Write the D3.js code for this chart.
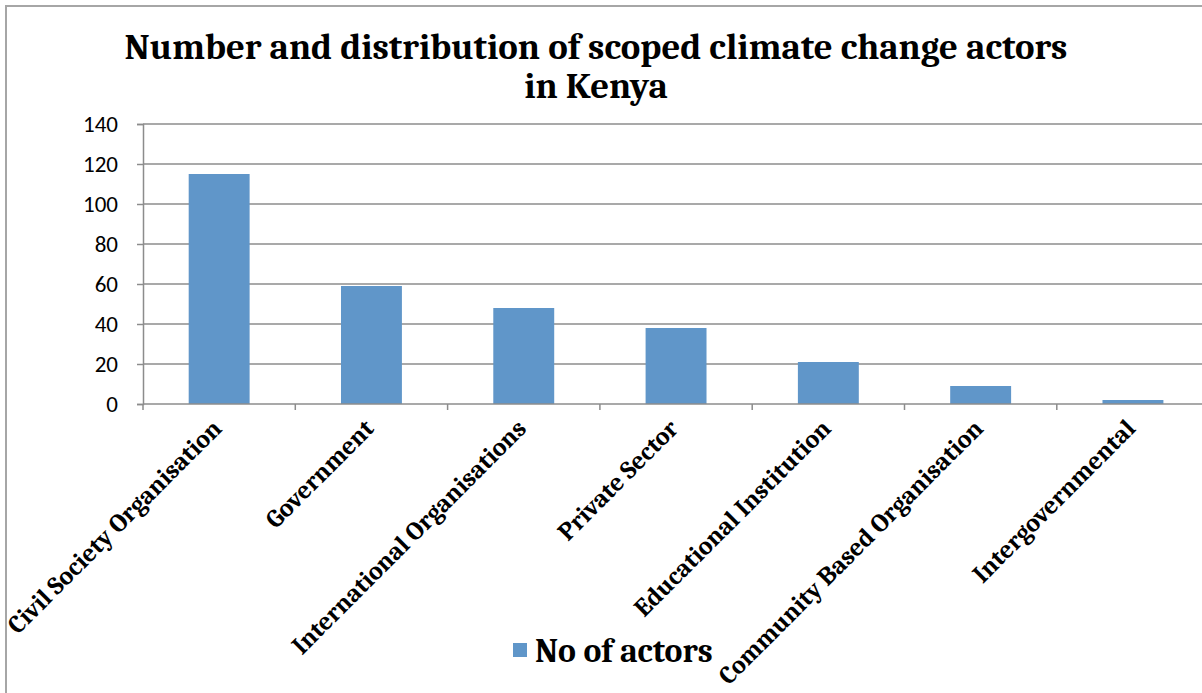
<!DOCTYPE html>
<html>
<head>
<meta charset="utf-8">
<script src="https://cdn.jsdelivr.net/npm/d3@7"></script>
<style>
  html, body { margin: 0; padding: 0; background: #fff; }
  svg { display: block; }
</style>
</head>
<body>
<div id="chart"></div>
<script>
// data
const categories = [
  "Civil Society Organisation",
  "Government",
  "International Organisations",
  "Private Sector",
  "Educational Institution",
  "Community Based Organisation",
  "Intergovernmental"
];
const actorCounts = [115, 59, 48, 38, 21, 9, 2];
const yTicks = [0, 20, 40, 60, 80, 100, 120, 140];
const titleLines = ["Number and distribution of scoped climate change actors", "in Kenya"];
const seriesName = "No of actors";

const width = 1202, height = 693;
const barColor = "#6096c9";
const gridColor = "#8c8c8c";
const serif = "Cambria, 'Liberation Serif', 'DejaVu Serif', serif";

const svg = d3.select("#chart").append("svg")
  .attr("width", width)
  .attr("height", height);

// outer frame (only top and left edges show)
svg.append("path")
  .attr("d", `M6,${height} V6 H${width}`)
  .attr("fill", "none")
  .attr("stroke", "#a6a6a6")
  .attr("stroke-width", 2);

const plotLeft = 143, plotTop = 124, plotBottom = 404;
const step = 152.3;

const x = d3.scaleBand()
  .domain(categories)
  .range([plotLeft, plotLeft + step * categories.length])
  .padding(0);

const y = d3.scaleLinear()
  .domain([0, 140])
  .range([plotBottom, plotTop]);

// scale a text's font so that it spans a given width
function fitWidth(sel, size, target) {
  sel.style("font-size", size + "px");
  const w = sel.node().getComputedTextLength();
  const s = size * target / w;
  sel.style("font-size", s.toFixed(1) + "px");
  return s;
}

// gridlines
svg.append("g")
  .selectAll("line")
  .data(yTicks.slice(1))
  .join("line")
  .attr("x1", plotLeft)
  .attr("x2", width)
  .attr("y1", d => y(d))
  .attr("y2", d => y(d))
  .attr("stroke", gridColor)
  .attr("stroke-width", 1.5);

// bars
const barW = x.bandwidth() * 0.4;
svg.append("g")
  .selectAll("rect")
  .data(categories)
  .join("rect")
  .attr("x", d => x(d) + (x.bandwidth() - barW) / 2)
  .attr("width", barW)
  .attr("y", (d, i) => y(actorCounts[i]))
  .attr("height", (d, i) => y(0) - y(actorCounts[i]))
  .attr("fill", barColor);

// y axis
const yAxis = svg.append("g")
  .attr("transform", `translate(${plotLeft},0)`)
  .call(d3.axisLeft(y).tickValues(yTicks).tickSize(6).tickPadding(19));
yAxis.select(".domain").attr("stroke", gridColor).attr("stroke-width", 1.5);
yAxis.selectAll(".tick line").attr("stroke", gridColor).attr("stroke-width", 1.5);
yAxis.selectAll(".tick text")
  .attr("fill", "#000")
  .style("font-family", "Carlito, 'Liberation Sans', Arial, sans-serif")
  .style("font-size", "23px");

// x axis line and category boundary ticks
svg.append("line")
  .attr("x1", plotLeft).attr("x2", width)
  .attr("y1", plotBottom).attr("y2", plotBottom)
  .attr("stroke", gridColor).attr("stroke-width", 1.5);
svg.append("g")
  .selectAll("line")
  .data(d3.range(categories.length + 1))
  .join("line")
  .attr("x1", i => plotLeft + i * x.step())
  .attr("x2", i => plotLeft + i * x.step())
  .attr("y1", plotBottom)
  .attr("y2", plotBottom + 6)
  .attr("stroke", gridColor).attr("stroke-width", 1.5);

// rotated category labels
const labels = svg.append("g")
  .selectAll("text")
  .data(categories)
  .join("text")
  .attr("transform", d => `translate(${x(d) + x.bandwidth() / 2 + 4},${plotBottom + 26}) rotate(-45)`)
  .attr("text-anchor", "end")
  .style("font-family", serif)
  .style("font-weight", "bold")
  .text(d => d);
const labelSize = fitWidth(labels.filter((d, i) => i === 0), 21, 290);
labels.style("font-size", labelSize.toFixed(1) + "px");

// title
const title = svg.append("text")
  .attr("text-anchor", "middle")
  .style("font-family", serif)
  .style("font-weight", "bold")
  .style("font-size", "32px");
title.selectAll("tspan")
  .data(titleLines)
  .join("tspan")
  .attr("x", 596)
  .attr("y", (d, i) => 59 + i * 39)
  .text(d => d);
// stretch the font so the first line spans the same width as the original
const w0 = title.select("tspan").node().getComputedTextLength();
title.style("font-size", (32 * 943 / w0).toFixed(1) + "px");

// legend
const legend = svg.append("g").attr("transform", "translate(513,643)");
legend.append("rect")
  .attr("width", 14).attr("height", 14)
  .attr("fill", barColor);
const legendText = legend.append("text")
  .attr("x", 22).attr("y", 19)
  .style("font-family", serif)
  .style("font-weight", "bold")
  .text(seriesName);
fitWidth(legendText, 29, 178);
</script>
</body>
</html>
